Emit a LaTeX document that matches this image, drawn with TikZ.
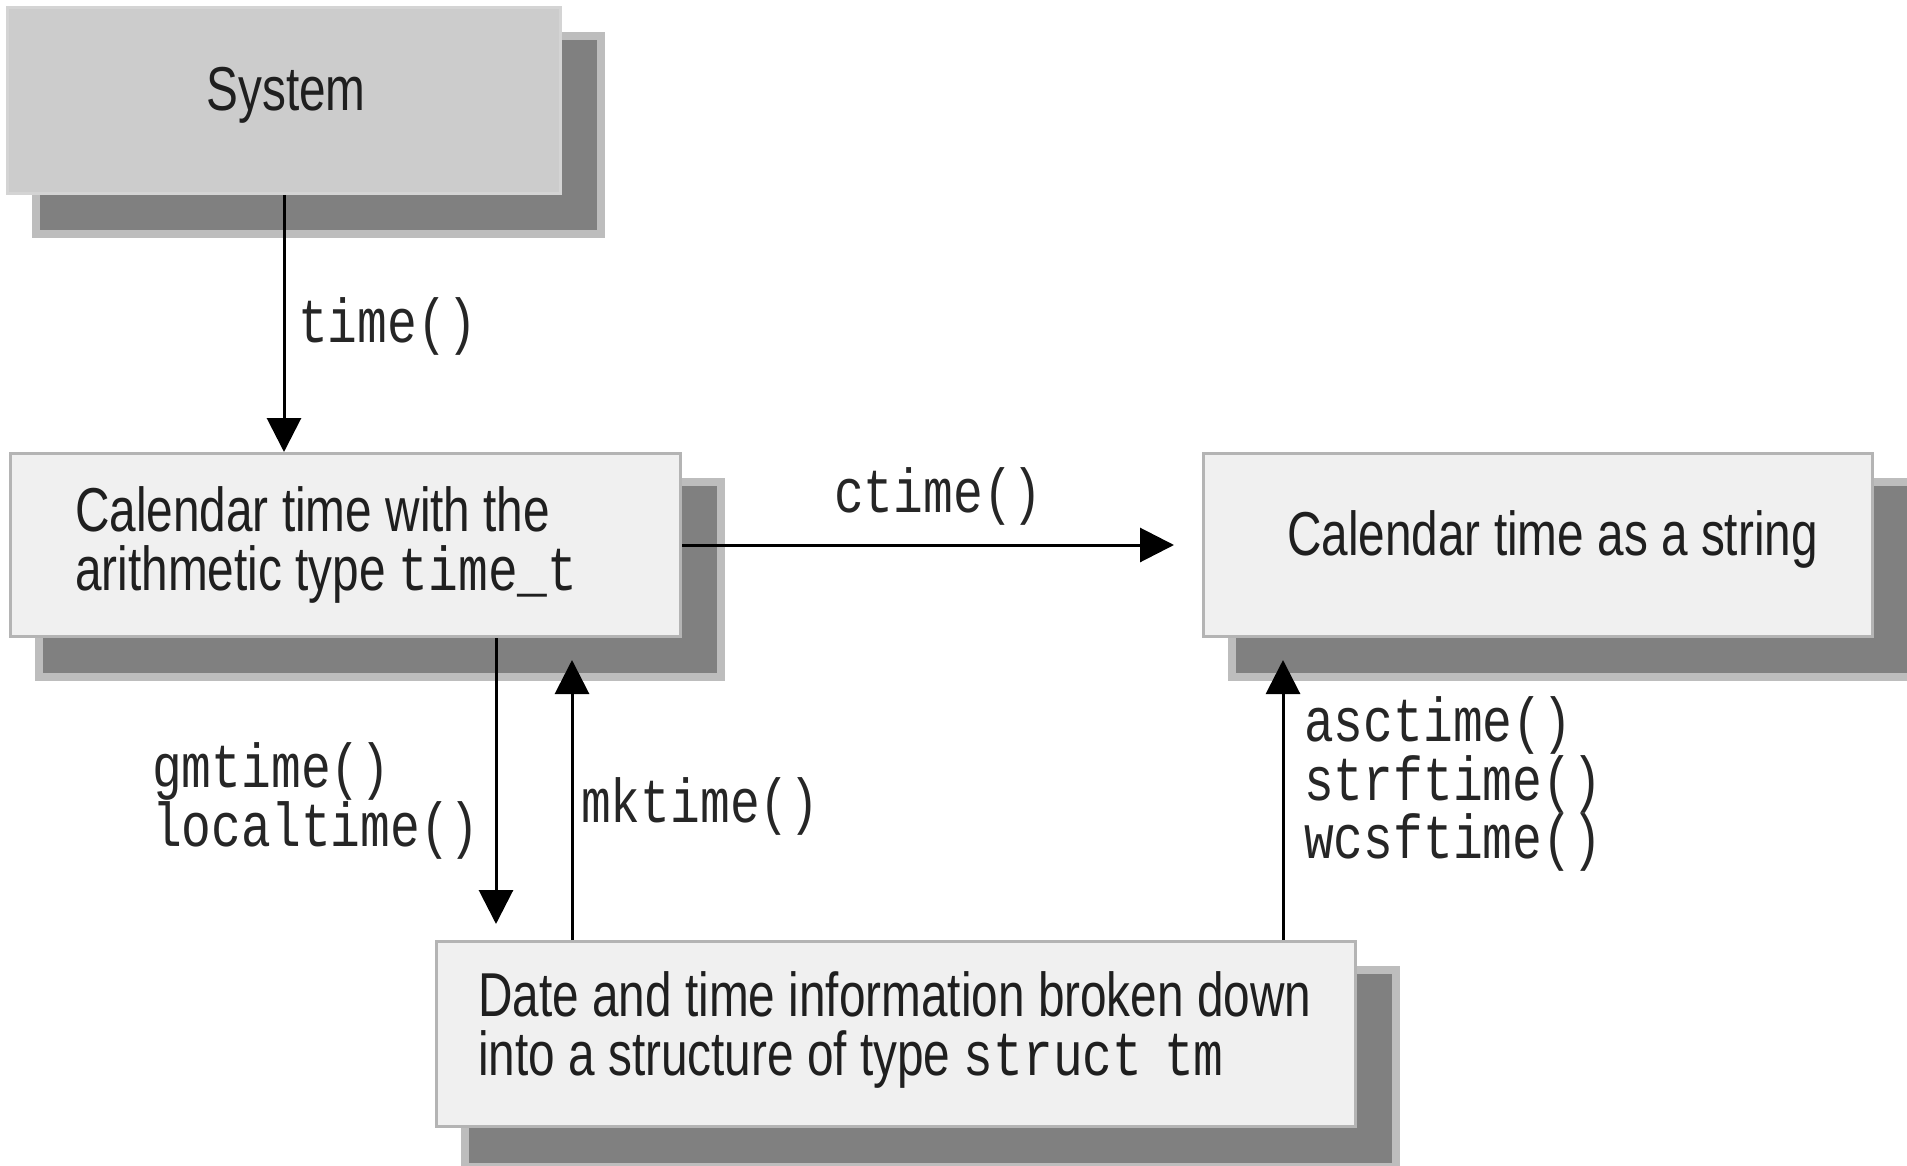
\documentclass[tikz,border=0pt]{standalone}
\usepackage{fontspec}
\usetikzlibrary{arrows.meta,calc}
\newfontfamily\boxfont[FakeStretch=0.77]{Liberation Sans}
\newfontfamily\codefont[FakeStretch=0.80]{Liberation Mono}
\definecolor{boxfill}{HTML}{F0F0F0}
\definecolor{boxline}{HTML}{B4B4B4}
\definecolor{sysfill}{HTML}{CCCCCC}
\definecolor{sysline}{HTML}{D4D4D4}
\definecolor{shadlight}{HTML}{BDBDBD}
\definecolor{shaddark}{HTML}{808080}
\newcommand\myshadow[4]{%
  \fill[shadlight] (#1+26,#2+26) rectangle (#3+46,#4+46);
  \fill[shaddark] (#1+34,#2+34) rectangle (#3+38,#4+38);}
\tikzset{
  box/.style={draw=boxline, line width=3pt, fill=boxfill, inner sep=0pt, anchor=north west},
  sysbox/.style={box, draw=sysline, fill=sysfill},
  txt/.style={font=\boxfont\fontsize{62}{59}\selectfont, inner sep=0pt, align=left, text=black!88},
  lbl/.style={font=\codefont\fontsize{62}{57}\selectfont, anchor=west, inner sep=0pt, align=left, text=black!85},
  arr/.style={line width=3pt, -{Triangle[width=34pt,length=34pt]}}
}
\begin{document}
\begin{tikzpicture}[x=1pt,y=-1pt]
\useasboundingbox (0,0) rectangle (1907,1166);
\fill[white] (0,0) rectangle (1907,1166);
% shadows
\myshadow{6}{6}{559}{192}
\myshadow{9}{452}{679}{635}
\myshadow{1202}{452}{1871}{635}
\myshadow{435}{940}{1354}{1125}
% boxes
\node[sysbox, minimum width=553pt, minimum height=186pt] (sys) at (6,6) {};
\node[box, minimum width=670pt, minimum height=183pt] (cal) at (9,452) {};
\node[box, minimum width=669pt, minimum height=183pt] (str) at (1202,452) {};
\node[box, minimum width=919pt, minimum height=185pt] (st) at (435,940) {};
% texts
\node[txt] (systxt) at (286,95) {System};
\node[txt, anchor=west] (caltxt) at (75,545) {Calendar time with the\\arithmetic type {\codefont time\_t}};
\node[txt, anchor=west] (strtxt) at (1287,539) {Calendar time as a string};
\node[txt, anchor=west] (sttxt) at (478,1030) {Date and time information broken down\\into a structure of type {\codefont struct\hspace{-8pt} tm}};
% connectors
\draw[arr] (sys.south) -- (sys.south |- cal.north);
\draw[arr, shorten >=28pt] (cal.east) -- (str.west);
\draw[arr, shorten >=16pt] ([xshift=487pt]cal.south west) -- ([xshift=487pt]cal.south west |- st.north);
\draw[arr, shorten >=22pt] ([xshift=137pt]st.north west) -- ([xshift=137pt]st.north west |- cal.south);
\draw[arr, shorten >=22pt] ([xshift=848pt]st.north west) -- ([xshift=848pt]st.north west |- str.south);
% labels
\node[lbl] (ltime) at (298,326) {time()};
\node[lbl] (lctime) at (834,496) {ctime()};
\node[lbl] (lgm) at (152,801) {gmtime()\\localtime()};
\node[lbl] (lmk) at (581,806) {mktime()};
\node[lbl] (lasc) at (1304,784) {asctime()\\strftime()\\wcsftime()};
\end{tikzpicture}
\end{document}
